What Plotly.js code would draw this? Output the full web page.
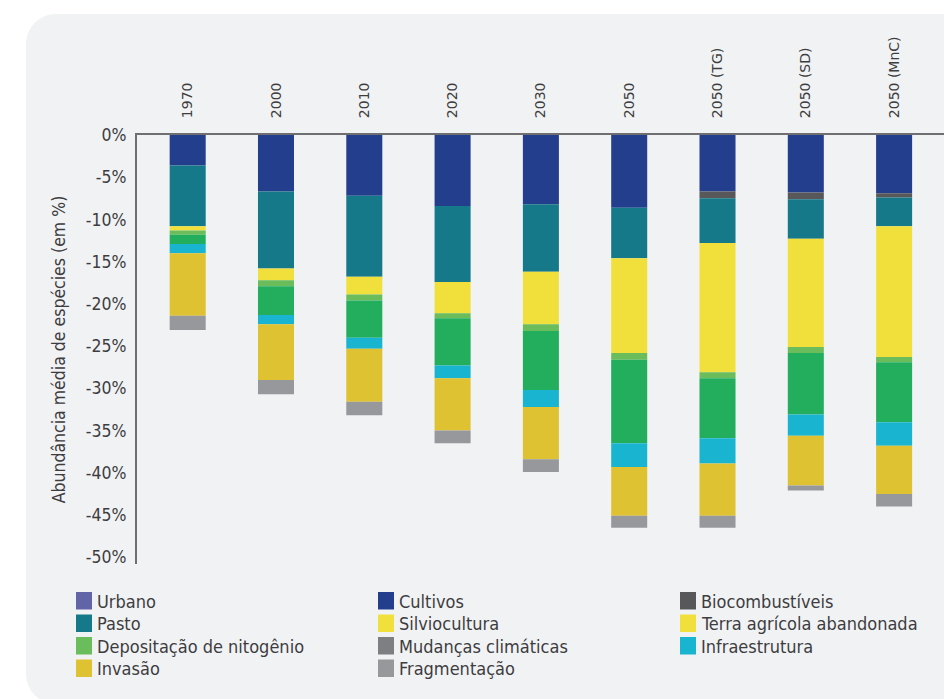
<!DOCTYPE html>
<html>
<head>
<meta charset="utf-8">
<script src="https://cdn.plot.ly/plotly-3.0.1.min.js"></script>
<style>
  html, body { margin: 0; padding: 0; background: #ffffff; width: 944px; height: 699px; overflow: hidden; }
  #panel { position: absolute; left: 26px; top: 14px; width: 1000px; height: 690px; background: #f1f2f4; border-radius: 30px; }
  #chart { position: absolute; left: 0; top: 0; width: 944px; height: 699px; }
</style>
</head>
<body>
<div id="panel"></div>
<div id="chart"></div>
<script>
// ---- Data (in % change of mean species abundance) ----
const categories = ['1970', '2000', '2010', '2020', '2030', '2050', '2050 (TG)', '2050 (SD)', '2050 (MnC)'];

const urbano      = [0, 0, 0, 0, 0, 0, 0, 0, 0];
const cultivos    = [-3.6, -6.7, -7.2, -8.4, -8.2, -8.6, -6.7, -6.8, -6.9];
const biocomb     = [0, 0, 0, 0, 0, 0, -0.8, -0.8, -0.5];
const pasto       = [-7.2, -9.1, -9.6, -9.0, -8.0, -6.0, -5.3, -4.7, -3.4];
const silvio      = [-0.5, -1.4, -2.1, -3.7, -6.2, -11.2, 0, 0, 0];
const terraAband  = [0, 0, 0, 0, 0, 0, -15.3, -12.8, -15.5];
const depNitro    = [-0.5, -0.7, -0.7, -0.6, -0.8, -0.8, -0.7, -0.7, -0.6];
const clima       = [-1.1, -3.4, -4.4, -5.6, -7.0, -9.9, -7.1, -7.3, -7.1];
const infra       = [-1.1, -1.1, -1.3, -1.5, -2.0, -2.8, -3.0, -2.5, -2.8];
const invasao     = [-7.4, -6.6, -6.3, -6.2, -6.2, -5.8, -6.2, -5.9, -5.7];
const fragment    = [-1.7, -1.7, -1.6, -1.5, -1.5, -1.4, -1.4, -0.6, -1.5];

const yTickVals   = [0, -5, -10, -15, -20, -25, -30, -35, -40, -45, -50];
const yTickText   = ['0%', '-5%', '-10%', '-15%', '-20%', '-25%', '-30%', '-35%', '-40%', '-45%', '-50%'];
const yTitle      = 'Abundância média de espécies (em %)';

// legend entries (row-major, 3 columns)
const legendNames = ['Urbano', 'Cultivos', 'Biocombustíveis',
                     'Pasto', 'Silviocultura', 'Terra agrícola abandonada',
                     'Depositação de nitogênio', 'Mudanças climáticas', 'Infraestrutura',
                     'Invasão', 'Fragmentação'];

// ---- Styles ----
const colors = {
  'Urbano': '#6264a8',
  'Cultivos': '#243e8e',
  'Biocombustíveis': '#58585a',
  'Pasto': '#15798a',
  'Silviocultura': '#f1e03c',
  'Terra agrícola abandonada': '#f1e03c',
  'Depositação de nitogênio': '#6abd5a',
  'Mudanças climáticas': '#22ae5c',
  'Infraestrutura': '#19b4cf',
  'Invasão': '#dfc231',
  'Fragmentação': '#97989b'
};
const legendColors = Object.assign({}, colors, { 'Mudanças climáticas': '#7e7f82' });

const series = [
  ['Urbano', urbano], ['Cultivos', cultivos], ['Biocombustíveis', biocomb], ['Pasto', pasto],
  ['Silviocultura', silvio], ['Terra agrícola abandonada', terraAband], ['Depositação de nitogênio', depNitro],
  ['Mudanças climáticas', clima], ['Infraestrutura', infra], ['Invasão', invasao], ['Fragmentação', fragment]
];

const traces = series.map(([name, vals]) => ({
  type: 'bar', name: name, x: categories, y: vals,
  marker: { color: colors[name], line: { width: 0 } },
  showlegend: false, hoverinfo: 'name+y'
}));

// plot area in pixels
const W = 944, H = 699, L = 137, T = 135, B = 135;
const plotW = W - L, plotH = H - T - B;
const fx = px => (px - L) / plotW;
const fy = py => (H - B - py) / plotH;

const condensed = '"DejaVu Sans Condensed", "DejaVu Sans", sans-serif';
const textColor = '#3d3d3f';

const shapes = [], annotations = [];
const colX = [76, 378, 680], rowY = [592, 614.5, 637, 659.5];
legendNames.forEach((name, i) => {
  const c = i % 3, r = Math.floor(i / 3);
  const x0 = colX[c], y0 = rowY[r];
  shapes.push({ type: 'rect', xref: 'paper', yref: 'paper',
    x0: fx(x0), x1: fx(x0 + 16), y0: fy(y0), y1: fy(y0 + 17.5),
    fillcolor: legendColors[name], line: { width: 0 } });
  annotations.push({ xref: 'paper', yref: 'paper', x: fx(x0 + 19), y: fy(y0 + 9),
    xanchor: 'left', yanchor: 'middle', showarrow: false, text: name,
    font: { family: condensed, size: 18, color: textColor } });
});

const layout = {
  width: W, height: H,
  margin: { l: L, r: 0, t: T, b: B, pad: 0 },
  paper_bgcolor: 'rgba(0,0,0,0)', plot_bgcolor: 'rgba(0,0,0,0)',
  barmode: 'relative', bargap: 0.592,
  showlegend: false,
  xaxis: {
    side: 'top', type: 'category', range: [-0.574, 8.565],
    showline: true, linecolor: '#6f6f71', linewidth: 2,
    showgrid: false, zeroline: false, ticks: '',
    tickangle: -90, ticklabelstandoff: 12,
    tickfont: { family: '"DejaVu Sans", sans-serif', size: 14, color: textColor },
    fixedrange: true
  },
  yaxis: {
    range: [-50.8, 0], showline: true, linecolor: '#6f6f71', linewidth: 2,
    showgrid: false, zeroline: false, ticks: '',
    tickvals: yTickVals, ticktext: yTickText, ticklabelstandoff: 5,
    tickfont: { family: condensed, size: 17.5, color: textColor },
    title: { text: yTitle, standoff: 16, font: { family: condensed, size: 17.5, color: textColor } },
    automargin: false, fixedrange: true
  },
  shapes: shapes,
  annotations: annotations,
  font: { family: condensed, color: textColor }
};

Plotly.newPlot('chart', traces, layout, { displayModeBar: false, staticPlot: true });
</script>
</body>
</html>
